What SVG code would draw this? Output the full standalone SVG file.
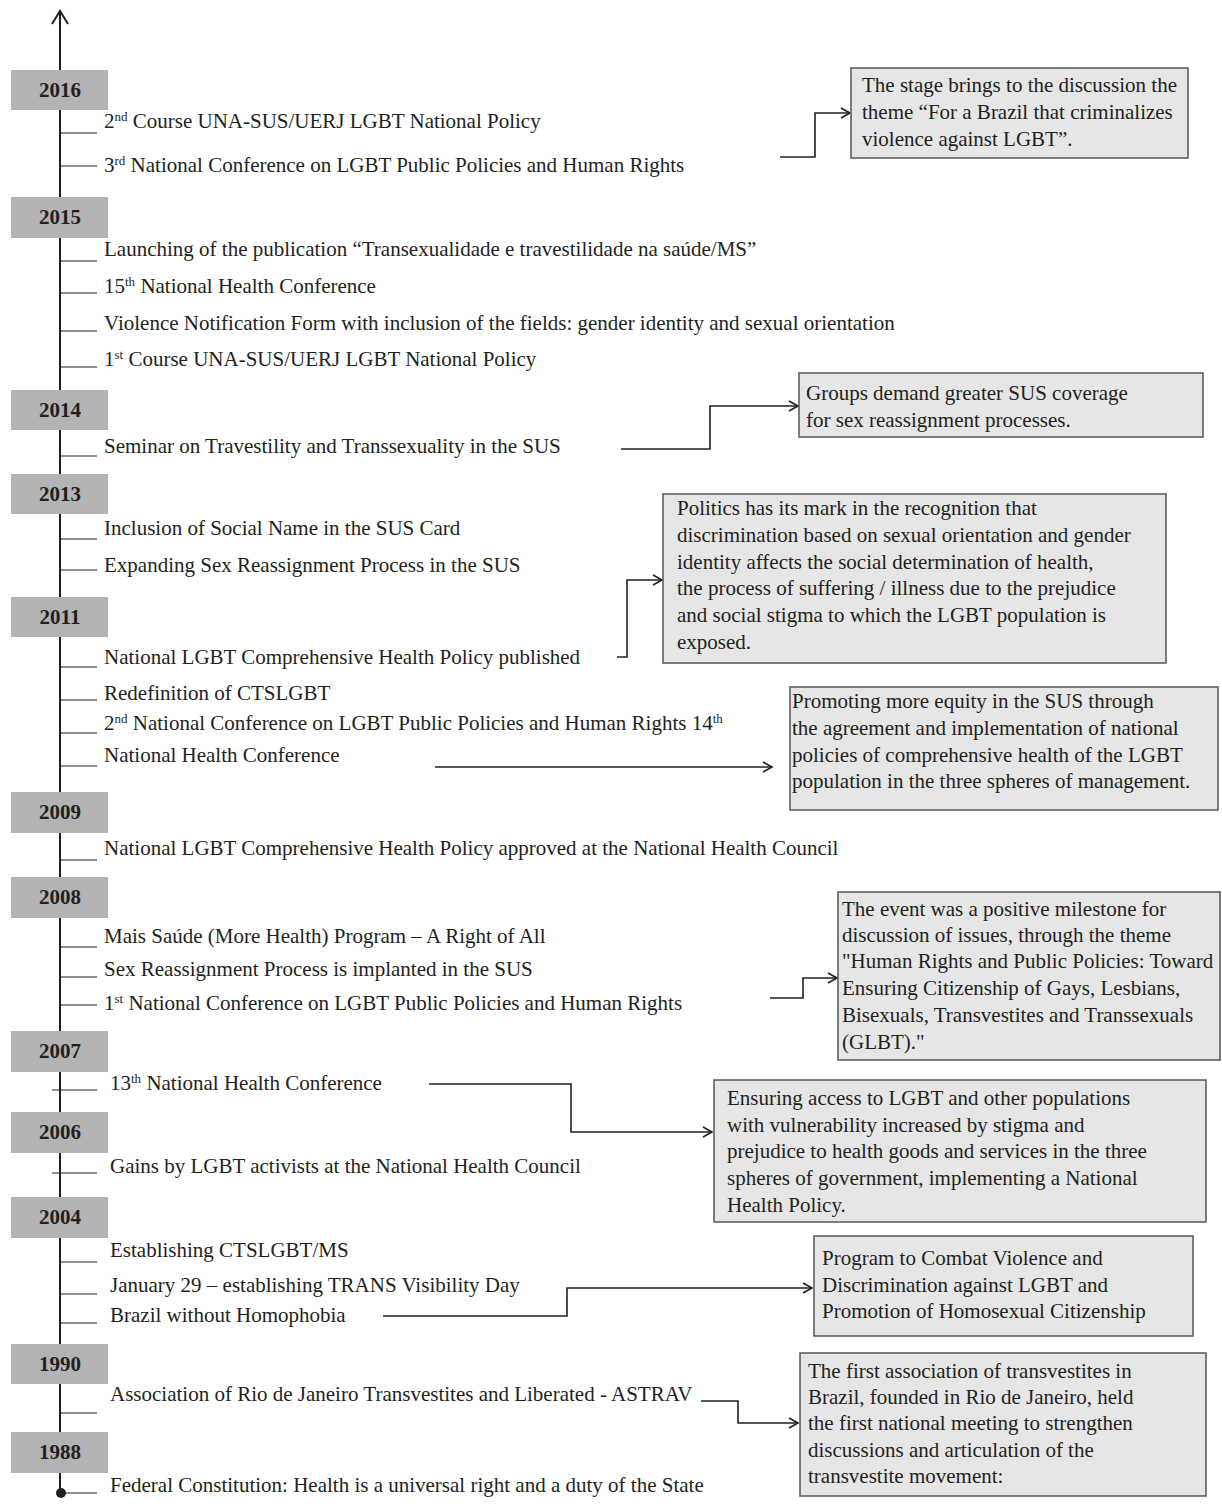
<svg xmlns="http://www.w3.org/2000/svg" width="1222" height="1504" viewBox="0 0 1222 1504">
<defs>
<style>
.yb{fill:#b3b3b3;}
.yt{font-family:"Liberation Serif",serif;font-weight:bold;font-size:21px;fill:#231f20;text-anchor:middle;}
.t{font-family:"Liberation Serif",serif;font-size:21px;fill:#231f20;}
.bx{fill:#e6e6e6;stroke:#555;stroke-width:1.5;}
.tick{stroke:#231f20;stroke-width:1.2;}
.axis{stroke:#231f20;stroke-width:2;fill:none;}
.c{stroke:#231f20;stroke-width:1.6;fill:none;marker-end:url(#ah);}
.sup{font-size:13px;}
</style>
<marker id="ah" markerUnits="userSpaceOnUse" markerWidth="14" markerHeight="14" refX="12" refY="7" orient="auto">
<path d="M3,2 L12,7 L3,12" fill="none" stroke="#231f20" stroke-width="1.6"/>
</marker>
</defs>
<rect width="1222" height="1504" fill="#fff"/>
<g id="axis">
<line class="axis" x1="60" y1="11" x2="60" y2="1493"/>
<path class="axis" d="M52,24 L60,11 L68,24"/>
<circle cx="61" cy="1493" r="5" fill="#231f20"/>
</g>
<g id="ticks">
<line class="tick" x1="60" y1="133" x2="97" y2="133"/>
<line class="tick" x1="60" y1="166" x2="97" y2="166"/>
<line class="tick" x1="60" y1="261" x2="97" y2="261"/>
<line class="tick" x1="60" y1="293" x2="97" y2="293"/>
<line class="tick" x1="60" y1="331" x2="97" y2="331"/>
<line class="tick" x1="60" y1="367" x2="97" y2="367"/>
<line class="tick" x1="60" y1="456" x2="97" y2="456"/>
<line class="tick" x1="60" y1="539" x2="97" y2="539"/>
<line class="tick" x1="60" y1="570" x2="97" y2="570"/>
<line class="tick" x1="60" y1="667" x2="97" y2="667"/>
<line class="tick" x1="60" y1="700" x2="97" y2="700"/>
<line class="tick" x1="60" y1="733" x2="97" y2="733"/>
<line class="tick" x1="60" y1="766" x2="97" y2="766"/>
<line class="tick" x1="60" y1="860" x2="97" y2="860"/>
<line class="tick" x1="60" y1="947" x2="97" y2="947"/>
<line class="tick" x1="60" y1="977" x2="97" y2="977"/>
<line class="tick" x1="60" y1="1005" x2="97" y2="1005"/>
<line class="tick" x1="52" y1="1090" x2="97" y2="1090"/>
<line class="tick" x1="52" y1="1173" x2="97" y2="1173"/>
<line class="tick" x1="60" y1="1262" x2="97" y2="1262"/>
<line class="tick" x1="60" y1="1294" x2="97" y2="1294"/>
<line class="tick" x1="60" y1="1323" x2="97" y2="1323"/>
<line class="tick" x1="60" y1="1413" x2="97" y2="1413"/>
<line class="tick" x1="60" y1="1493" x2="97" y2="1493"/>
</g>
<g id="y2016"><rect class="yb" x="11" y="70" width="97" height="40"/><text class="yt" x="60" y="97">2016</text></g>
<g id="y2015"><rect class="yb" x="11" y="197" width="97" height="41"/><text class="yt" x="60" y="224">2015</text></g>
<g id="y2014"><rect class="yb" x="11" y="390" width="97" height="40"/><text class="yt" x="60" y="417">2014</text></g>
<g id="y2013"><rect class="yb" x="11" y="474" width="97" height="40"/><text class="yt" x="60" y="501">2013</text></g>
<g id="y2011"><rect class="yb" x="11" y="597" width="97" height="40"/><text class="yt" x="60" y="624">2011</text></g>
<g id="y2009"><rect class="yb" x="11" y="792" width="97" height="41"/><text class="yt" x="60" y="819">2009</text></g>
<g id="y2008"><rect class="yb" x="11" y="877" width="97" height="41"/><text class="yt" x="60" y="904">2008</text></g>
<g id="y2007"><rect class="yb" x="11" y="1031" width="97" height="41"/><text class="yt" x="60" y="1058">2007</text></g>
<g id="y2006"><rect class="yb" x="11" y="1112" width="97" height="41"/><text class="yt" x="60" y="1139">2006</text></g>
<g id="y2004"><rect class="yb" x="11" y="1197" width="97" height="41"/><text class="yt" x="60" y="1224">2004</text></g>
<g id="y1990"><rect class="yb" x="11" y="1344" width="97" height="40"/><text class="yt" x="60" y="1371">1990</text></g>
<g id="y1988"><rect class="yb" x="11" y="1432" width="97" height="41"/><text class="yt" x="60" y="1459">1988</text></g>
<g id="events">
<text class="t" x="104" y="128">2<tspan class="sup" dy="-7">nd</tspan><tspan dy="7"> Course UNA-SUS/UERJ LGBT National Policy</tspan></text>
<text class="t" x="104" y="172">3<tspan class="sup" dy="-7">rd</tspan><tspan dy="7"> National Conference on LGBT Public Policies and Human Rights</tspan></text>
<text class="t" x="104" y="256">Launching of the publication “Transexualidade e travestilidade na saúde/MS”</text>
<text class="t" x="104" y="293">15<tspan class="sup" dy="-7">th</tspan><tspan dy="7"> National Health Conference</tspan></text>
<text class="t" x="104" y="330">Violence Notification Form with inclusion of the fields: gender identity and sexual orientation</text>
<text class="t" x="104" y="366">1<tspan class="sup" dy="-7">st</tspan><tspan dy="7"> Course UNA-SUS/UERJ LGBT National Policy</tspan></text>
<text class="t" x="104" y="453">Seminar on Travestility and Transsexuality in the SUS</text>
<text class="t" x="104" y="535">Inclusion of Social Name in the SUS Card</text>
<text class="t" x="104" y="572">Expanding Sex Reassignment Process in the SUS</text>
<text class="t" x="104" y="664">National LGBT Comprehensive Health Policy published</text>
<text class="t" x="104" y="700">Redefinition of CTSLGBT</text>
<text class="t" x="104" y="730">2<tspan class="sup" dy="-7">nd</tspan><tspan dy="7"> National Conference on LGBT Public Policies and Human Rights 14</tspan><tspan class="sup" dy="-7">th</tspan></text>
<text class="t" x="104" y="762">National Health Conference</text>
<text class="t" x="104" y="855">National LGBT Comprehensive Health Policy approved at the National Health Council</text>
<text class="t" x="104" y="943">Mais Saúde (More Health) Program – A Right of All</text>
<text class="t" x="104" y="976">Sex Reassignment Process is implanted in the SUS</text>
<text class="t" x="104" y="1010">1<tspan class="sup" dy="-7">st</tspan><tspan dy="7"> National Conference on LGBT Public Policies and Human Rights</tspan></text>
<text class="t" x="110" y="1090">13<tspan class="sup" dy="-7">th</tspan><tspan dy="7"> National Health Conference</tspan></text>
<text class="t" x="110" y="1173">Gains by LGBT activists at the National Health Council</text>
<text class="t" x="110" y="1257">Establishing CTSLGBT/MS</text>
<text class="t" x="110" y="1292">January 29 – establishing TRANS Visibility Day</text>
<text class="t" x="110" y="1322">Brazil without Homophobia</text>
<text class="t" x="110" y="1401">Association of Rio de Janeiro Transvestites and Liberated - ASTRAV</text>
<text class="t" x="110" y="1492">Federal Constitution: Health is a universal right and a duty of the State</text>
</g>
<g id="connectors">
<path class="c" d="M780,157 H815 V113 H850"/>
<path class="c" d="M621,449 H710 V406 H798"/>
<path class="c" d="M617,657 H627 V580 H662"/>
<path class="c" d="M435,767 H772"/>
<path class="c" d="M770,998 H803 V978 H837"/>
<path class="c" d="M429,1084 H571 V1132 H712"/>
<path class="c" d="M383,1316 H567 V1288 H812"/>
<path class="c" d="M701,1401 H738 V1423 H798"/>
</g>
<g id="note2016"><rect class="bx" x="851" y="68" width="337" height="90"/>
<text class="t" x="862" y="92">The stage brings to the discussion the</text>
<text class="t" x="862" y="119">theme “For a Brazil that criminalizes</text>
<text class="t" x="862" y="146">violence against LGBT”.</text></g>
<g id="note2014"><rect class="bx" x="799" y="373" width="404" height="64"/>
<text class="t" x="806" y="400">Groups demand greater SUS coverage</text>
<text class="t" x="806" y="427">for sex reassignment processes.</text></g>
<g id="note2011a"><rect class="bx" x="663" y="494" width="503" height="169"/>
<text class="t" x="677" y="515">Politics has its mark in the recognition that</text>
<text class="t" x="677" y="542">discrimination based on sexual orientation and gender</text>
<text class="t" x="677" y="569">identity affects the social determination of health,</text>
<text class="t" x="677" y="595">the process of suffering / illness due to the prejudice</text>
<text class="t" x="677" y="622">and social stigma to which the LGBT population is</text>
<text class="t" x="677" y="649">exposed.</text></g>
<g id="note2011b"><rect class="bx" x="790" y="687" width="428" height="123"/>
<text class="t" x="792" y="708">Promoting more equity in the SUS through</text>
<text class="t" x="792" y="735">the agreement and implementation of national</text>
<text class="t" x="792" y="762">policies of comprehensive health of the LGBT</text>
<text class="t" x="792" y="788">population in the three spheres of management.</text></g>
<g id="note2008"><rect class="bx" x="838" y="892" width="382" height="168"/>
<text class="t" x="842" y="916">The event was a positive milestone for</text>
<text class="t" x="842" y="942">discussion of issues, through the theme</text>
<text class="t" x="842" y="968">"Human Rights and Public Policies: Toward</text>
<text class="t" x="842" y="995">Ensuring Citizenship of Gays, Lesbians,</text>
<text class="t" x="842" y="1022">Bisexuals, Transvestites and Transsexuals</text>
<text class="t" x="842" y="1049">(GLBT)."</text></g>
<g id="note2007"><rect class="bx" x="714" y="1080" width="492" height="142"/>
<text class="t" x="727" y="1105">Ensuring access to LGBT and other populations</text>
<text class="t" x="727" y="1132">with vulnerability increased by stigma and</text>
<text class="t" x="727" y="1158">prejudice to health goods and services in the three</text>
<text class="t" x="727" y="1185">spheres of government, implementing a National</text>
<text class="t" x="727" y="1212">Health Policy.</text></g>
<g id="note2004"><rect class="bx" x="814" y="1236" width="379" height="100"/>
<text class="t" x="822" y="1265">Program to Combat Violence and</text>
<text class="t" x="822" y="1292">Discrimination against LGBT and</text>
<text class="t" x="822" y="1318">Promotion of Homosexual Citizenship</text></g>
<g id="note1990"><rect class="bx" x="800" y="1353" width="406" height="143"/>
<text class="t" x="808" y="1378">The first association of transvestites in</text>
<text class="t" x="808" y="1404">Brazil, founded in Rio de Janeiro, held</text>
<text class="t" x="808" y="1430">the first national meeting to strengthen</text>
<text class="t" x="808" y="1457">discussions and articulation of the</text>
<text class="t" x="808" y="1483">transvestite movement:</text></g>
</svg>
